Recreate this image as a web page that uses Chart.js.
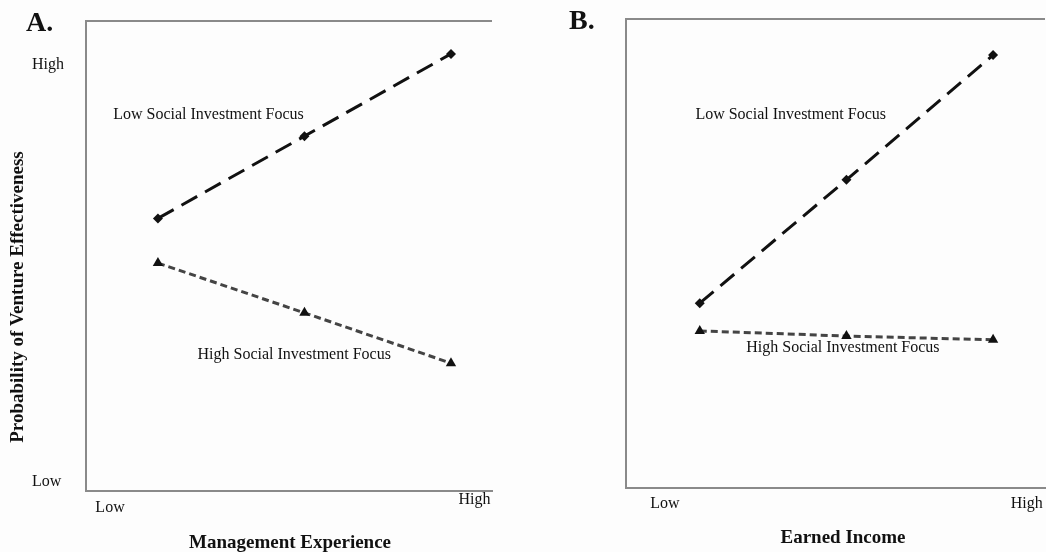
<!DOCTYPE html>
<html>
<head>
<meta charset="utf-8">
<script src="https://cdn.jsdelivr.net/npm/chart.js@4"></script>
<style>
  body { margin: 0; background: #fdfdfd; overflow: hidden; }
  .panel { position: absolute; top: 0; height: 552px; }
  #panel-a { left: 0; width: 520px; }
  #panel-b { left: 520px; width: 531px; }
</style>
</head>
<body>
<div class="panel" id="panel-a"><canvas id="chart-a"></canvas></div>
<div class="panel" id="panel-b"><canvas id="chart-b"></canvas></div>
<script>
// levels along x (low, mean, high)
const levels = [1, 2, 3]
const axisTicks = ['Low', 'High']
const seriesNames = ['Low Social Investment Focus', 'High Social Investment Focus']

// panel A: management experience
const lowFocusA = [58, 75.5, 93]
const highFocusA = [48.5, 37.9, 27.2]
// panel B: earned income
const lowFocusB = [39.4, 65.7, 92.3]
const highFocusB = [33.5, 32.4, 31.6]

const SERIF = '"Liberation Serif", "Times New Roman", serif'

const toPoints = (values) => values.map((v, i) => ({ x: levels[i], y: v }))

// draws the panel text and the top edge of the frame
const decorPlugin = {
  id: 'decor',
  afterDraw (chart) {
    const o = chart.options.plugins.decor
    const { ctx, chartArea, scales } = chart
    const x = scales.x
    const y = scales.y
    ctx.save()
    // top border
    ctx.strokeStyle = '#8a8a8a'
    ctx.lineWidth = 2
    ctx.beginPath()
    ctx.moveTo(chartArea.left - 1, chartArea.top)
    ctx.lineTo(chartArea.right, chartArea.top)
    ctx.stroke()

    ctx.fillStyle = '#111'
    // panel letter
    ctx.font = 'bold 28px ' + SERIF
    ctx.textAlign = 'left'
    ctx.textBaseline = 'middle'
    ctx.fillText(o.letter, o.letterPos[0], o.letterPos[1])

    // x tick labels
    ctx.font = '16px ' + SERIF
    ctx.textAlign = 'center'
    o.xTicks.forEach((t, i) => {
      ctx.fillText(axisTicks[i], x.getPixelForValue(t.value), t.y)
    })
    // y tick labels
    ctx.textAlign = 'left'
    o.yTicks.forEach((v, i) => {
      ctx.fillText(axisTicks[i], 32, y.getPixelForValue(v))
    })

    // line labels
    ctx.font = '16px ' + SERIF
    ctx.textAlign = 'center'
    o.notes.forEach((n, i) => {
      ctx.fillText(seriesNames[i], x.getPixelForValue(n[0]), y.getPixelForValue(n[1]))
    })

    // axis titles
    ctx.font = 'bold 19px ' + SERIF
    ctx.fillText(o.xTitle, (chartArea.left + o.xTitleRight) / 2, o.xTitleY)
    if (o.yTitle) {
      ctx.translate(18, 297)
      ctx.rotate(-Math.PI / 2)
      ctx.fillText(o.yTitle, 0, 0)
    }
    ctx.restore()
  }
}

const makeChart = (canvas, lowVals, highVals, opts) => new Chart(canvas, {
  type: 'line',
  data: {
    datasets: [
      {
        label: seriesNames[0],
        data: toPoints(lowVals),
        borderColor: '#111',
        backgroundColor: '#111',
        borderWidth: 3,
        borderDash: [18, 9],
        pointStyle: 'rectRot',
        pointRadius: 5,
        pointBorderWidth: 0
      },
      {
        label: seriesNames[1],
        data: toPoints(highVals),
        borderColor: '#444',
        backgroundColor: '#111',
        borderWidth: 3,
        borderDash: [7, 4],
        pointStyle: 'triangle',
        pointRadius: 6,
        pointBorderWidth: 0
      }
    ]
  },
  options: {
    responsive: true,
    maintainAspectRatio: false,
    animation: false,
    layout: { padding: opts.padding },
    plugins: {
      legend: { display: false },
      tooltip: { enabled: false },
      decor: opts.decor
    },
    scales: {
      x: {
        type: 'linear',
        min: opts.xMin,
        max: opts.xMax,
        grid: { display: false, drawTicks: false },
        ticks: { display: false },
        border: { display: true, color: '#8a8a8a', width: 2 }
      },
      y: {
        min: 0,
        max: 100,
        grid: { display: false, drawTicks: false },
        ticks: { display: false },
        border: { display: true, color: '#8a8a8a', width: 2 }
      }
    }
  },
  plugins: [decorPlugin]
})

makeChart(document.getElementById('chart-a'), lowFocusA, highFocusA, {
  padding: { left: 86, top: 21, right: 28, bottom: 61 },
  xMin: 0.509,
  xMax: 3.28,
  decor: {
    letter: 'A.',
    letterPos: [26, 24],
    xTicks: [{ value: 0.673, y: 508 }, { value: 3.16, y: 500 }],
    yTicks: [1.9, 90.6],
    notes: [[1.345, 80.0], [1.93, 28.9]],
    xTitle: 'Management Experience',
    xTitleRight: 494,
    xTitleY: 543,
    yTitle: 'Probability of Venture Effectiveness'
  }
})

makeChart(document.getElementById('chart-b'), lowFocusB, highFocusB, {
  padding: { left: 106, top: 19, right: 0, bottom: 64 },
  xMin: 0.497,
  xMax: 3.354,
  decor: {
    letter: 'B.',
    letterPos: [49, 22],
    xTicks: [{ value: 0.762, y: 504 }, { value: 3.23, y: 504 }],
    yTicks: [],
    notes: [[1.62, 79.5], [1.976, 29.9]],
    xTitle: 'Earned Income',
    xTitleRight: 540,
    xTitleY: 538,
    yTitle: null
  }
})
</script>
</body>
</html>
